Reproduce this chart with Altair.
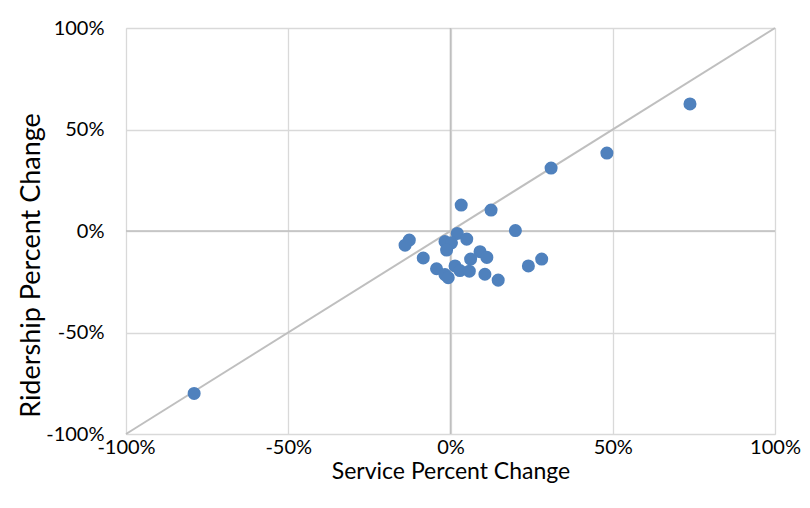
import altair as alt
import pandas as pd

service = [-79, 73.8, 48.2, 31, 3.3, 12.5, 20, -12.7, -14, 2.1, 5, -1.7, 0.3, -1.2,
           -8.4, 9.1, 11.2, 6.2, 28.1, 24, -4.3, 1.4, -1.7, 2.9, 5.8, 10.6, 14.7, -0.7]
ridership = [-80, 62.6, 38.4, 31, 12.8, 10.3, 0.2, -4.5, -7, -1.2, -4, -5.2, -5.8, -9.4,
             -13.3, -10.2, -13, -13.8, -13.8, -17.2, -18.6, -17.2, -21.5, -19.5, -19.8, -21.3, -24.2, -23]

ticks = [-1, -0.5, 0, 0.5, 1]

df = pd.DataFrame({"x": [v / 100 for v in service], "y": [v / 100 for v in ridership]})
diag = pd.DataFrame({"x": [-1, 1], "y": [-1, 1]})
zero = pd.DataFrame({"v": [0]})

FONT = "Lato"
LABEL_EXPR = "(datum.value < 0 ? '-' : '') + round(abs(datum.value) * 100) + '%'"
xs = alt.Scale(domain=[-1, 1], nice=False, zero=False)
ys = alt.Scale(domain=[-1, 1], nice=False, zero=False)

base_x = alt.X("x:Q", scale=xs, axis=alt.Axis(
    values=ticks, labelExpr=LABEL_EXPR, title="Service Percent Change", grid=True,
    gridColor="#d9d9d9", gridWidth=1.3, domain=False, ticks=False, labelFlush=False,
    labelFont=FONT, labelFontSize=20, labelColor="#000000", labelPadding=3,
    titleFont=FONT, titleFontSize=23, titleFontWeight="normal", titleColor="#000000",
    titlePadding=3))
base_y = alt.Y("y:Q", scale=ys, axis=alt.Axis(
    values=ticks, labelExpr=LABEL_EXPR, title="Ridership Percent Change", grid=True,
    gridColor="#d9d9d9", gridWidth=1.3, domain=False, ticks=False, labelFlush=False,
    labelFont=FONT, labelFontSize=20, labelColor="#000000", labelPadding=22,
    titleFont=FONT, titleFontSize=27, titleFontWeight="normal", titleColor="#000000",
    titleY=237, titleX=-95, titleBaseline="middle"))

vzero = alt.Chart(zero).mark_rule(color="#bfbfbf", strokeWidth=1.6).encode(x=alt.X("v:Q", scale=xs))
hzero = alt.Chart(zero).mark_rule(color="#bfbfbf", strokeWidth=1.6).encode(y=alt.Y("v:Q", scale=ys))
line = alt.Chart(diag).mark_line(color="#bfbfbf", strokeWidth=2).encode(x=base_x, y=base_y)
pts = alt.Chart(df).mark_circle(size=170, color="#4f81bd", opacity=1).encode(
    x=alt.X("x:Q", scale=xs), y=alt.Y("y:Q", scale=ys))

chart = alt.layer(line, vzero, hzero, pts).properties(
    width=649, height=406,
    autosize=alt.AutoSizeParams(type="none"),
    padding={"left": 118, "top": 20, "right": 27, "bottom": 66},
).configure_view(stroke=None).configure(background="#ffffff")

chart.save("out.html", embed_options={"renderer": "svg", "actions": False})
